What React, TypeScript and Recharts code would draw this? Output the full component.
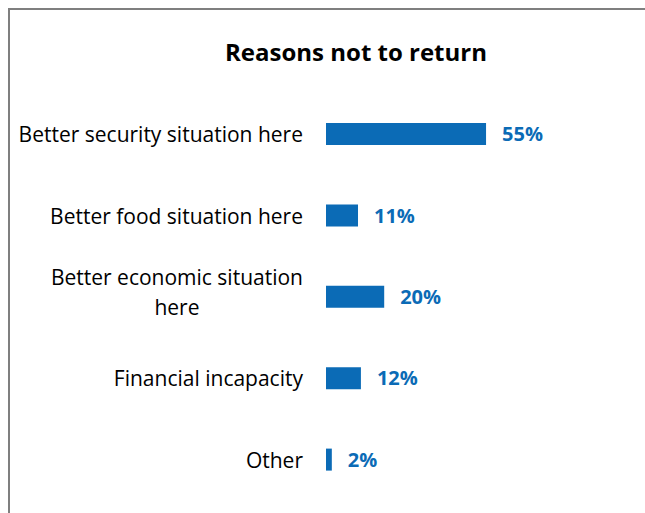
import React from 'react';
import { BarChart, Bar, XAxis, YAxis, LabelList } from 'recharts';

// Reasons not to return (% of respondents)
const categories = [
  'Better security situation here',
  'Better food situation here',
  'Better economic situation here',
  'Financial incapacity',
  'Other',
];
const shares = [55, 11, 20, 12, 2];
// how each category label wraps on the axis
const tickLabels = [
  ['Better security situation here'],
  ['Better food situation here'],
  ['Better economic situation', 'here'],
  ['Financial incapacity'],
  ['Other'],
];

const BLUE = '#0b6bb6';
const FONT = '"Open Sans", "Liberation Sans", sans-serif';

const data = categories.map((name, i) => ({ name, value: shares[i] }));

let ctx: CanvasRenderingContext2D | null = null;
const textWidth = (s: string) => {
  if (!ctx) ctx = document.createElement('canvas').getContext('2d');
  if (!ctx) return s.length * 10;
  ctx.font = `21px ${FONT}`;
  return ctx.measureText(s).width;
};

const CategoryTick = (props: any) => {
  const { x, y, payload } = props;
  const idx = categories.indexOf(payload.value);
  const lines = tickLabels[idx] || [payload.value];
  const style = { fontFamily: FONT, fontSize: 21, fill: '#000' };
  if (lines.length === 1) {
    return (
      <text x={x} y={y + 8.5} textAnchor="end" style={style}>
        {lines[0]}
      </text>
    );
  }
  const cx = x - textWidth(lines[0]) / 2;
  return (
    <g>
      <text x={cx} y={y - 11.5} textAnchor="middle" style={style}>{lines[0]}</text>
      <text x={cx} y={y + 18} textAnchor="middle" style={style}>{lines[1]}</text>
    </g>
  );
};

export default function App() {
  // fixed so the frame can run off the right/bottom edge without scrollbars
  return (
    <div
      style={{
        position: 'fixed',
        left: 8,
        top: 8,
        width: 637,
        height: 505,
        boxSizing: 'border-box',
        borderTop: '2px solid #7f7f7f',
        borderLeft: '2px solid #7f7f7f',
        background: '#fff',
        overflow: 'hidden',
      }}
    >
      <svg width={635} height={80} style={{ position: 'absolute', left: 0, top: 0 }}>
        <text
          x={346}
          y={51}
          textAnchor="middle"
          style={{ fontFamily: FONT, fontSize: 24, fontWeight: 700, fill: '#000' }}
        >
          Reasons not to return
        </text>
      </svg>
      <BarChart
        width={635}
        height={503}
        data={data}
        layout="vertical"
        margin={{ top: 83, right: 28, bottom: 13, left: 0 }}
      >
        <XAxis type="number" domain={[0, 100]} hide />
        <YAxis
          type="category"
          dataKey="name"
          width={316}
          axisLine={false}
          tickLine={false}
          tickSize={0}
          tickMargin={23}
          interval={0}
          tick={<CategoryTick />}
        />
        <Bar dataKey="value" fill={BLUE} barSize={22} isAnimationActive={false}>
          <LabelList
            dataKey="value"
            position="right"
            offset={16}
            formatter={(v: any) => `${v}%`}
            style={{ fontFamily: FONT, fontSize: 20, fontWeight: 700, fill: BLUE }}
          />
        </Bar>
      </BarChart>
    </div>
  );
}
